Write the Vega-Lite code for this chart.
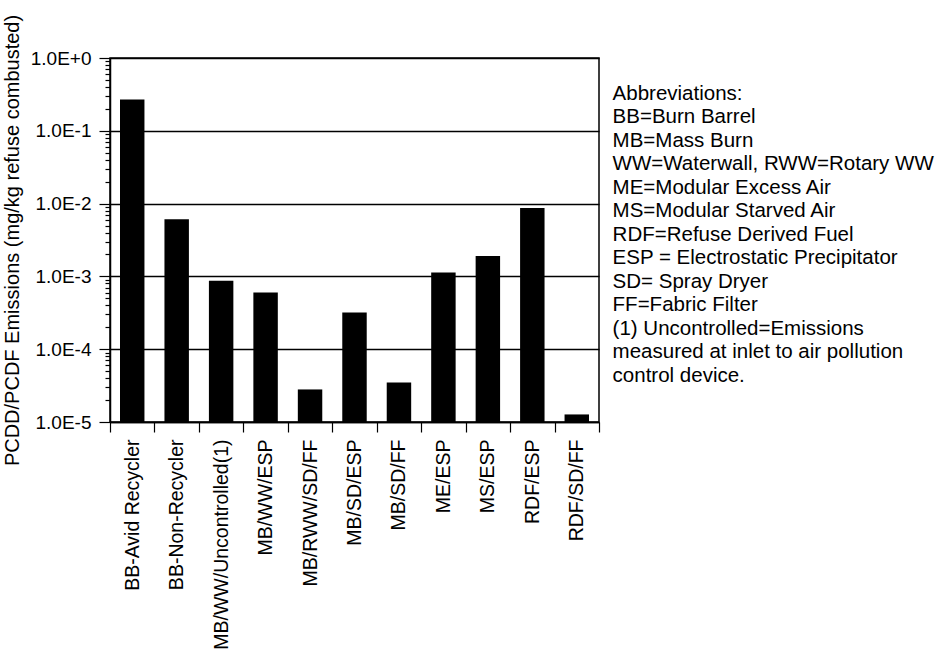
{
  "$schema": "https://vega.github.io/schema/vega-lite/v6.json",
  "background": "white",
  "padding": {"left": 1, "top": 13, "right": 0, "bottom": 0},
  "spacing": 11.6,
  "config": {"font": "Liberation Sans", "view": {"stroke": null}},
  "hconcat": [
    {
      "width": 489,
      "height": 364,
      "view": {"stroke": "black", "strokeWidth": 1.5},
      "data": {
        "values": [
          {"category": "BB-Avid Recycler", "emission": 0.27},
          {"category": "BB-Non-Recycler", "emission": 0.0061},
          {"category": "MB/WW/Uncontrolled(1)", "emission": 0.00087},
          {"category": "MB/WW/ESP", "emission": 0.0006},
          {"category": "MB/RWW/SD/FF", "emission": 0.000028},
          {"category": "MB/SD/ESP", "emission": 0.00032},
          {"category": "MB/SD/FF", "emission": 0.000035},
          {"category": "ME/ESP", "emission": 0.00113},
          {"category": "MS/ESP", "emission": 0.0019},
          {"category": "RDF/ESP", "emission": 0.0087},
          {"category": "RDF/SD/FF", "emission": 0.0000127}
        ]
      },
      "mark": {"type": "bar", "color": "black", "width": {"band": 0.55}},
      "encoding": {
        "x": {
          "field": "category",
          "type": "nominal",
          "sort": null,
          "scale": {"paddingInner": 0, "paddingOuter": 0},
          "axis": {
            "title": null,
            "labelAngle": 270,
            "labelFontSize": 19.5,
            "labelColor": "black",
            "labelPadding": 7,
            "labelLimit": 400,
            "tickBand": "extent",
            "tickSize": 10,
            "tickColor": "black",
            "tickWidth": 1.2,
            "domainColor": "black",
            "domainWidth": 1.5
          }
        },
        "y": {
          "field": "emission",
          "type": "quantitative",
          "stack": null,
          "scale": {"type": "log", "domain": [0.00001, 1], "nice": false},
          "axis": {
            "title": "PCDD/PCDF Emissions (mg/kg refuse combusted)",
            "titleFontSize": 20,
            "titleFontWeight": "normal",
            "titleColor": "black",
            "titlePadding": 8,
            "values": [0.00001, 0.00002, 0.00003, 0.00004, 0.00005, 0.00006, 0.00007, 0.00008, 0.00009,
                       0.0001, 0.0002, 0.0003, 0.0004, 0.0005, 0.0006, 0.0007, 0.0008, 0.0009,
                       0.001, 0.002, 0.003, 0.004, 0.005, 0.006, 0.007, 0.008, 0.009,
                       0.01, 0.02, 0.03, 0.04, 0.05, 0.06, 0.07, 0.08, 0.09,
                       0.1, 0.2, 0.3, 0.4, 0.5, 0.6, 0.7, 0.8, 0.9, 1],
            "labelExpr": "abs(log(datum.value)/LN10 - round(log(datum.value)/LN10)) < 0.001 ? '1.0E' + (round(log(datum.value)/LN10) >= 0 ? '+' : '') + round(log(datum.value)/LN10) : ''",
            "labelFontSize": 19,
            "labelColor": "black",
            "labelPadding": 8,
            "labelOverlap": false,
            "tickColor": "black",
            "tickWidth": 1.2,
            "tickSize": {"condition": {"test": "abs(log(datum.value)/LN10 - round(log(datum.value)/LN10)) < 0.001", "value": 11}, "value": 5},
            "grid": true,
            "gridColor": "black",
            "gridWidth": 1.5,
            "gridOpacity": {"condition": {"test": "abs(log(datum.value)/LN10 - round(log(datum.value)/LN10)) < 0.001", "value": 1}, "value": 0},
            "domainColor": "black",
            "domainWidth": 1.5
          }
        },
        "y2": {"datum": 0.00001}
      }
    },
    {
      "width": 330,
      "height": 364,
      "data": {
        "values": [
          {"line": 0, "text": "Abbreviations:"},
          {"line": 1, "text": "BB=Burn Barrel"},
          {"line": 2, "text": "MB=Mass Burn"},
          {"line": 3, "text": "WW=Waterwall, RWW=Rotary WW"},
          {"line": 4, "text": "ME=Modular Excess Air"},
          {"line": 5, "text": "MS=Modular Starved Air"},
          {"line": 6, "text": "RDF=Refuse Derived Fuel"},
          {"line": 7, "text": "ESP = Electrostatic Precipitator"},
          {"line": 8, "text": "SD= Spray Dryer"},
          {"line": 9, "text": "FF=Fabric Filter"},
          {"line": 10, "text": "(1)  Uncontrolled=Emissions"},
          {"line": 11, "text": "measured  at inlet to air pollution"},
          {"line": 12, "text": "control device."}
        ]
      },
      "mark": {"type": "text", "align": "left", "baseline": "middle", "fontSize": 20.5, "color": "black"},
      "encoding": {
        "x": {"value": 0},
        "y": {"field": "line", "type": "quantitative", "scale": {"domain": [-1.532, 13.958], "reverse": true}, "axis": null},
        "text": {"field": "text"}
      }
    }
  ]
}
